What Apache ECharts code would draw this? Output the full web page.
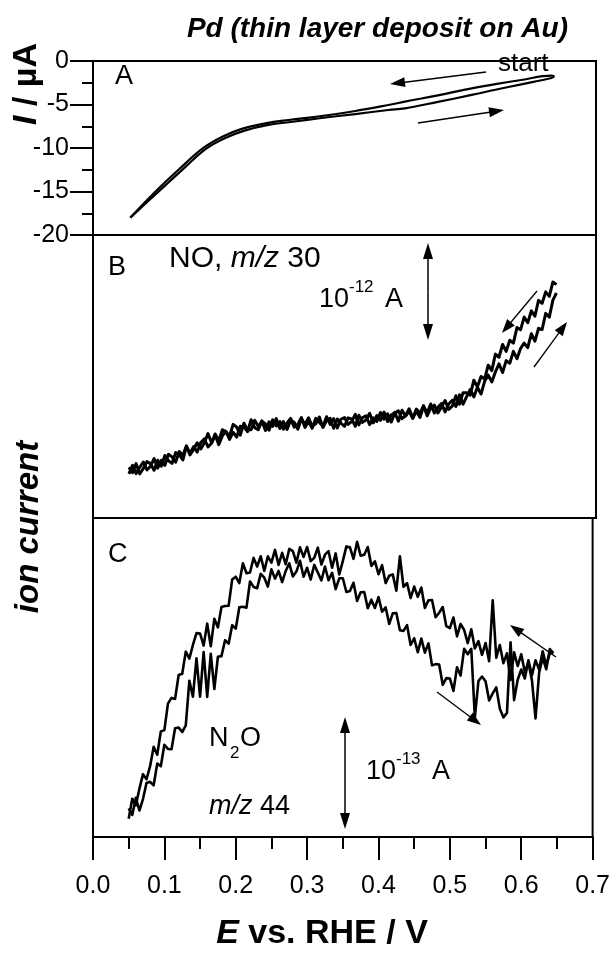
<!DOCTYPE html>
<html><head><meta charset="utf-8">
<script src="https://cdn.jsdelivr.net/npm/echarts@6/dist/echarts.min.js"></script>
<style>html,body{margin:0;padding:0;background:#fff}#c{width:613px;height:953px}</style>
</head><body><div id="c"></div>
<script>
// ---------- DATA ----------
// Panel A: cyclic voltammogram (E / V vs RHE, I / uA)
const A_E_cathodic = [0.052,0.087,0.119,0.154,0.180,0.207,0.240,0.272,0.318,0.365,0.411,0.434,0.480,0.527,0.560,0.596,0.638,0.642];
const A_I_cathodic = [-18.0,-15.0,-12.5,-9.97,-8.7,-7.8,-7.17,-6.78,-6.32,-5.75,-5.06,-4.67,-3.95,-3.14,-2.65,-2.18,-1.69,-1.75];
const A_E_anodic = [0.052,0.090,0.123,0.158,0.184,0.211,0.244,0.278,0.318,0.365,0.411,0.434,0.480,0.527,0.560,0.596,0.638,0.642];
const A_I_anodic = [-18.0,-15.1,-12.6,-10.05,-8.85,-8.0,-7.35,-6.98,-6.55,-6.1,-5.63,-5.44,-4.7,-3.9,-3.3,-2.68,-1.95,-1.75];

// Potential grid for mass-spectrometric ion currents (V)
const E_ms = [
0.050,0.055,0.060,0.065,0.070,0.075,0.080,0.085,0.090,0.095,
0.100,0.105,0.110,0.115,0.120,0.125,0.130,0.135,0.140,0.145,
0.150,0.155,0.160,0.165,0.170,0.175,0.180,0.185,0.190,0.195,
0.200,0.205,0.210,0.215,0.220,0.225,0.230,0.235,0.240,0.245,
0.250,0.255,0.260,0.265,0.270,0.275,0.280,0.285,0.290,0.295,
0.300,0.305,0.310,0.315,0.320,0.325,0.330,0.335,0.340,0.345,
0.350,0.355,0.360,0.365,0.370,0.375,0.380,0.385,0.390,0.395,
0.400,0.405,0.410,0.415,0.420,0.425,0.430,0.435,0.440,0.445,
0.450,0.455,0.460,0.465,0.470,0.475,0.480,0.485,0.490,0.495,
0.500,0.505,0.510,0.515,0.520,0.525,0.530,0.535,0.540,0.545,
0.550,0.555,0.560,0.565,0.570,0.575,0.580,0.585,0.590,0.595,
0.600,0.605,0.610,0.615,0.620,0.625,0.630,0.635,0.640,0.645];

// Panel B: NO, m/z 30 (arbitrary units)
const B_cathodic = [
15.6,18.6,15.7,17.9,19.8,17.0,18.3,21.0,17.6,20.4,
18.6,22.5,21.6,19.7,23.5,22.1,25.5,22.3,24.2,26.6,
24.4,26.6,29.8,26.6,29.7,27.2,31.2,30.5,28.9,33.1,
32.1,29.3,33.5,31.1,31.2,34.5,32.3,34.3,30.9,34.0,
32.4,35.1,31.6,34.1,31.3,34.5,33.8,31.4,35.0,33.1,
35.4,32.5,33.3,35.7,32.0,34.4,35.2,31.7,35.0,33.5,
32.4,35.4,35.0,32.4,36.3,33.8,34.6,37.0,33.6,36.2,
34.5,37.4,34.1,36.4,37.3,34.2,38.1,36.0,37.7,35.2,
38.5,37.0,39.7,36.1,38.8,39.9,37.1,39.2,41.5,38.4,
39.5,43.2,40.2,44.3,44.3,43.4,48.7,46.4,50.0,49.1,
54.0,52.1,57.9,56.8,61.3,58.9,62.8,61.8,67.3,66.5,
71.0,69.0,73.2,71.3,76.9,75.9,79.9,78.3,83.4,82.5];
const B_anodic = [
17.9,16.0,19.2,15.6,17.5,19.9,19.2,16.9,20.4,18.3,
22.1,20.2,19.3,23.1,22.4,20.5,25.2,22.9,25.2,23.3,
26.7,28.0,25.1,26.4,29.3,25.9,29.0,30.6,27.8,30.3,
28.6,32.4,32.2,30.5,34.7,31.9,31.2,34.2,33.2,31.0,
34.7,32.5,34.1,31.4,33.6,35.2,32.1,33.1,35.5,32.0,
34.1,31.7,35.2,33.8,32.3,35.8,33.1,35.1,31.8,34.9,
35.5,33.1,34.1,36.6,32.9,35.5,36.1,33.0,35.4,34.1,
37.3,34.9,36.8,33.9,37.0,37.9,35.1,36.2,38.6,35.3,
37.7,35.5,39.4,37.2,40.3,37.1,39.1,40.5,37.5,40.3,
41.6,39.4,43.5,40.2,42.9,45.4,42.8,46.2,43.8,48.3,
50.5,48.1,51.6,54.5,51.4,55.6,54.7,58.9,56.3,59.9,
61.8,60.2,65.1,62.5,67.0,66.6,72.3,71.0,77.0,79.5];

// Panel C: N2O, m/z 44 (arbitrary units)
const C_cathodic = [
5.7,12.0,9.9,15.1,19.7,18.1,22.2,28.3,25.8,33.1,
33.5,41.8,43.6,43.3,50.8,51.2,58.1,55.9,60.2,63.9,
63.8,60.0,66.9,59.8,68.4,65.7,72.1,72.4,72.5,80.7,
81.6,79.6,85.8,82.7,82.9,87.5,84.8,88.0,83.4,88.0,
86.0,90.0,85.3,89.1,85.5,90.3,89.6,86.0,90.8,87.8,
90.9,86.5,87.5,90.7,85.4,88.5,89.6,84.4,88.9,82.3,
86.5,91.1,90.8,87.2,92.5,88.2,88.5,90.9,85.0,86.4,
82.4,85.2,79.6,81.9,82.3,77.2,88.0,78.4,79.6,74.9,
78.5,75.3,78.2,71.8,74.2,74.3,68.9,70.3,72.1,66.1,
65.5,68.8,62.9,66.8,64.9,60.8,65.1,59.1,61.4,57.1,
60.8,55.1,74.2,56.2,60.2,54.5,57.6,49.2,57.9,53.6,
57.3,51.7,54.7,49.1,37.2,51.4,56.2,52.6,58.9,57.7];
const C_anodic = [
9.0,6.9,12.3,8.3,11.9,16.9,17.3,16.2,23.0,22.2,
28.9,27.6,27.5,34.1,34.3,32.9,35.0,49.0,44.0,56.0,
44.0,58.0,43.9,57.4,46.4,56.5,56.7,61.7,60.6,66.4,
65.3,72.0,72.2,71.9,80.1,78.4,78.0,82.5,81.3,78.5,
83.9,81.0,83.4,79.9,83.4,85.8,81.7,83.2,86.6,81.6,
84.4,80.7,85.3,82.9,80.4,84.8,80.5,82.8,77.7,81.1,
81.1,76.8,77.1,79.7,74.0,76.7,76.8,71.7,74.4,71.8,
75.2,70.6,72.0,66.8,70.1,70.2,64.8,64.6,66.4,60.2,
62.3,57.9,62.2,57.8,60.7,53.8,54.2,54.1,47.7,49.8,
49.7,45.8,53.2,50.6,59.0,57.3,59.0,37.5,48.9,50.3,
48.8,42.8,45.0,46.9,40.2,37.5,38.9,61.0,42.9,49.3,
52.5,49.7,55.4,50.7,55.4,52.5,58.2,53.9,57.6,57.7];

const A_yTicks = [0,-5,-10,-15,-20];
const xTickLabels = ['0.0','0.1','0.2','0.3','0.4','0.5','0.6','0.7'];

// ---------- CHART ----------
const FF = '"Liberation Sans", Arial, Helvetica, sans-serif';
const chart = echarts.init(document.getElementById('c'), null, {renderer:'canvas'});
const L = 93, W = 503;
const zip = (xs, ys) => xs.map((x, i) => [x, ys[i]]);

function hiddenX(gi){ return {gridIndex:gi, type:'value', min:0, max:0.7, interval:0.1, show:true,
  axisLine:{show:false}, axisTick:{show:false}, axisLabel:{show:false}, splitLine:{show:false}}; }
function hiddenY(gi){ return {gridIndex:gi, type:'value', min:0, max:100, axisLine:{show:false},
  axisTick:{show:false}, axisLabel:{show:false}, splitLine:{show:false}}; }
function lineSeries(xi, data, w, smooth){ return {type:'line', xAxisIndex:xi, yAxisIndex:xi, data, showSymbol:false,
  symbol:'none', smooth: smooth||false, lineStyle:{color:'#000', width:w, join:'round'}, silent:true, animation:false, z:3}; }

// annotation helpers
function arrow(x1,y1,x2,y2,len,hw,lw){
  const dx=x2-x1, dy=y2-y1, d=Math.hypot(dx,dy), ux=dx/d, uy=dy/d;
  const bx=x2-ux*len, by=y2-uy*len;
  return [
    {type:'line', shape:{x1,y1,x2:bx+ux*2,y2:by+uy*2}, style:{stroke:'#000', lineWidth:lw||1.5}, z:10},
    {type:'polygon', shape:{points:[[x2,y2],[bx-uy*hw,by+ux*hw],[bx+uy*hw,by-ux*hw]]}, style:{fill:'#000'}, z:10}
  ];
}
function dblArrow(x,y1,y2){ return [...arrow(x,(y1+y2)/2,x,y1,16,5,1.5), ...arrow(x,(y1+y2)/2,x,y2,16,5,1.5)]; }
function txt(x,y,text,size,opts){ return Object.assign({type:'text', x, y, z:10,
  style:Object.assign({text, fill:'#000', fontSize:size, fontFamily:FF, align:'left', verticalAlign:'bottom'}, (opts&&opts.style)||{})},
  opts&&opts.el||{}); }
const rich = (sz) => ({n:{fontSize:sz, fontFamily:FF}, i:{fontSize:sz, fontFamily:FF, fontStyle:'italic'}});

const graphics = [
  // title
  txt(568, 43, 'Pd (thin layer deposit on Au)', 28, {style:{fontWeight:'bold', fontStyle:'italic', align:'right'}}),
  // y title A
  {type:'text', x:27, y:84, rotation:Math.PI/2, z:10, style:{text:'{i|I}{b| / µA}', align:'center', verticalAlign:'middle',
    rich:{i:{fontSize:34, fontFamily:FF, fontWeight:'bold', fontStyle:'italic'}, b:{fontSize:34, fontFamily:FF, fontWeight:'bold'}}}},
  // ion current
  {type:'text', x:29, y:527, rotation:Math.PI/2, z:10, style:{text:'ion current', align:'center', verticalAlign:'middle',
    fontSize:33, fontFamily:FF, fontWeight:'bold', fontStyle:'italic'}},
  // x title
  {type:'text', x:322, y:934, z:10, style:{text:'{i|E}{b| vs. RHE / V}', align:'center', verticalAlign:'middle',
    rich:{i:{fontSize:34, fontFamily:FF, fontWeight:'bold', fontStyle:'italic'}, b:{fontSize:34, fontFamily:FF, fontWeight:'bold'}}}},
  // panel A
  txt(115, 90, 'A', 27),
  txt(498, 77, 'start', 26),
  ...arrow(486,72,390,84,15,5,1.5),
  ...arrow(418,123,504,110,15,5,1.5),
  // panel B
  txt(108, 281, 'B', 27),
  {type:'text', x:169, y:274, z:10, style:{text:'{n|NO, }{i|m/z}{n| 30}', align:'left', verticalAlign:'bottom', rich:rich(30)}},
  txt(319, 313, '10', 27),
  txt(349, 296, '-12', 17),
  txt(385, 313, 'A', 27),
  ...dblArrow(428, 243, 340),
  ...arrow(537,291,502,333,14,5,1.3),
  ...arrow(534,367,567,322,14,5,1.3),
  // panel C
  txt(108, 568, 'C', 27),
  txt(209, 752, 'N', 27),
  txt(230, 762, '2', 17),
  txt(240, 752, 'O', 27),
  {type:'text', x:209, y:820, z:10, style:{text:'{i|m/z}{n| 44}', align:'left', verticalAlign:'bottom', rich:rich(27)}},
  txt(366, 785, '10', 27),
  txt(396, 768, '-13', 17),
  txt(432, 785, 'A', 27),
  ...dblArrow(345, 717, 829),
  ...arrow(556,657,510,625,14,5,1.3),
  ...arrow(437,692,481,725,14,5,1.3)
];

const option = {
  backgroundColor:'#fff',
  animation:false,
  grid:[
    {left:L, width:W, top:61, height:174, show:true, borderColor:'#000', borderWidth:2, containLabel:false},
    {left:L, width:W, top:235, height:283, show:true, borderColor:'#000', borderWidth:2, containLabel:false},
    {left:L, width:W, top:518, height:319, show:true, borderColor:'#000', borderWidth:2, containLabel:false}
  ],
  xAxis:[
    hiddenX(0), hiddenX(1),
    {gridIndex:2, type:'value', min:0, max:0.7, interval:0.1,
      axisLine:{show:true, lineStyle:{color:'#000', width:2}},
      axisTick:{show:true, length:23, lineStyle:{color:'#000', width:2}},
      minorTick:{show:true, splitNumber:2, length:12, lineStyle:{color:'#000', width:2}},
      axisLabel:{margin:37, fontSize:25, fontFamily:FF, color:'#000',
        formatter:(v)=>{ const i=Math.round(v*10); return xTickLabels[i] !== undefined ? xTickLabels[i] : ''; }},
      splitLine:{show:false}}
  ],
  yAxis:[
    {gridIndex:0, type:'value', min:-20, max:0, interval:5,
      axisLine:{show:true, lineStyle:{color:'#000', width:2}},
      axisTick:{show:true, length:23, lineStyle:{color:'#000', width:2}},
      minorTick:{show:true, splitNumber:2, length:11, lineStyle:{color:'#000', width:2}},
      axisLabel:{margin:24, fontSize:25, fontFamily:FF, color:'#000',
        formatter:(v)=> A_yTicks.includes(v) ? String(v) : ''},
      splitLine:{show:false}},
    hiddenY(1), hiddenY(2)
  ],
  series:[
    lineSeries(0, zip(A_E_cathodic, A_I_cathodic), 2.2, 0.4),
    lineSeries(0, zip(A_E_anodic, A_I_anodic), 2.2, 0.4),
    lineSeries(1, zip(E_ms, B_cathodic), 3),
    lineSeries(1, zip(E_ms, B_anodic), 3),
    lineSeries(2, zip(E_ms, C_cathodic), 2.6),
    lineSeries(2, zip(E_ms, C_anodic), 2.6)
  ],
  graphic: graphics
};
chart.setOption(option);
</script></body></html>
